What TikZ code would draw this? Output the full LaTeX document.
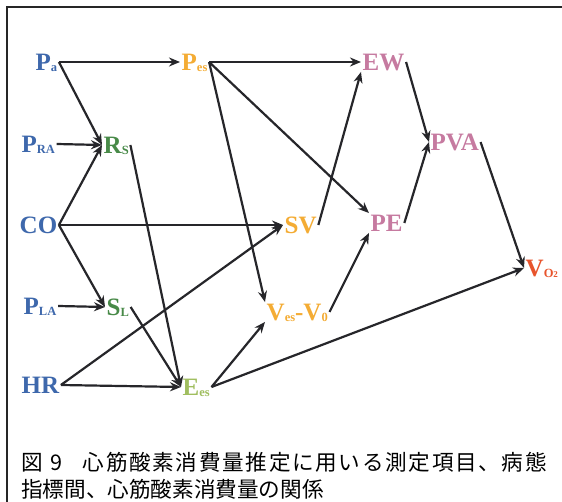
\documentclass[tikz,border=0pt]{standalone}
\usepackage{fontspec}
\setmainfont{Liberation Serif}
\newfontfamily\cjk{Noto Sans CJK JP}
\newfontfamily\cjkwide[LetterSpace=7.8]{Noto Sans CJK JP}
\usetikzlibrary{arrows.meta}
\definecolor{cblue}{RGB}{62,104,172}
\definecolor{cgreen}{RGB}{72,138,72}
\definecolor{clgreen}{RGB}{160,190,95}
\definecolor{corange}{RGB}{244,172,52}
\definecolor{cpink}{RGB}{198,122,160}
\definecolor{cred}{RGB}{232,84,44}
\definecolor{cline}{RGB}{38,38,42}
\newcommand\lsub[1]{\raisebox{-1pt}{\fontsize{12.5}{12.5}\selectfont #1}}
\tikzset{
  lbl/.style={anchor=west,inner sep=1.5pt,font=\fontsize{25}{25}\selectfont\bfseries,text height=16.5pt,text depth=0pt},
  arr/.style={draw=cline,line width=2.2pt,-{Stealth[length=11pt,width=9pt]}},
  framestyle/.style={draw=black!85,line width=1.2pt},
  captext/.style={anchor=base west,inner sep=0pt,font=\cjk\fontsize{21.6}{26}\selectfont}
}
\begin{document}
\begin{tikzpicture}[x=1pt,y=-1pt]
\useasboundingbox (0,0) rectangle (562,502);
\fill[white] (0,0) rectangle (562,502);
\coordinate (ftl) at (7,7);
\coordinate (ftr) at (562,7);
\coordinate (fbl) at (7,502);
\draw[framestyle] (ftr) -- (ftl) -- (fbl);
% nodes
\node[lbl,text=cblue] (pa) at (34,62) {P\lsub{a}};
\node[lbl,text=corange] (pes) at (180,62) {P\lsub{es}};
\node[lbl,text=cpink] (ew) at (361,62) {EW};
\node[lbl,text=cblue] (pra) at (20,144) {P\lsub{RA}};
\node[lbl,text=cgreen] (rs) at (102,145) {R\lsub{S}};
\node[lbl,text=cpink] (pva) at (429,142) {PVA};
\node[lbl,text=cblue] (co) at (18,225) {CO};
\node[lbl,text=corange] (sv) at (283,225) {SV};
\node[lbl,text=cpink] (pe) at (369,223) {PE};
\node[lbl,text=cred] (vo) at (524,268) {V\lsub{O{\fontsize{9}{9}\selectfont 2}}};
\node[lbl,text=cblue] (pla) at (22,306) {P\lsub{LA}};
\node[lbl,text=cgreen] (sl) at (105,307) {S\lsub{L}};
\node[lbl,text=corange] (ves) at (265,312) {V\lsub{es}-V\lsub{0}};
\node[lbl,text=cblue] (hr) at (20,385) {HR};
\node[lbl,text=clgreen] (ees) at (181,387) {E\lsub{es}};
% connectors
\draw[arr] (pa.east) -- (pes.west);
\draw[arr] (pa.east) -- (rs.west);
\draw[arr] (pra.east) -- (rs.west);
\draw[arr] (co.east) -- (rs.west);
\draw[arr] (pes.east) -- (ew.west);
\draw[arr] (pes.east) -- (pe.north west);
\draw[arr] (pes.east) -- (ves.north west);
\draw[arr] (rs.east) -- (ees.west);
\draw[arr] (co.east) -- (sv.west);
\draw[arr] (co.east) -- (sl.west);
\draw[arr] (pla.east) -- (sl.west);
\draw[arr] (hr.east) -- (sv.west);
\draw[arr] (hr.east) -- (ees.west);
\draw[arr] (sl.east) -- (ees.west);
\draw[arr] (sv.east) -- (ew.south west);
\draw[arr] (ves.east) -- (pe.south west);
\draw[arr] (ew.east) -- (pva.west);
\draw[arr] (pe.east) -- (pva.west);
\draw[arr] (pva.east) -- (vo.west);
\draw[arr] (ees.east) -- (ves.south west);
\draw[arr] (ees.east) -- (vo.west);
% caption
\node[captext] (c1) at (21,470) {図\hspace{8pt}9\hspace{20pt}{\cjkwide 心筋酸素消費量推定に用いる測定項目、病態}};
\node[captext] (c2) at (21,497) {指標間、心筋酸素消費量の関係};
\end{tikzpicture}
\end{document}
